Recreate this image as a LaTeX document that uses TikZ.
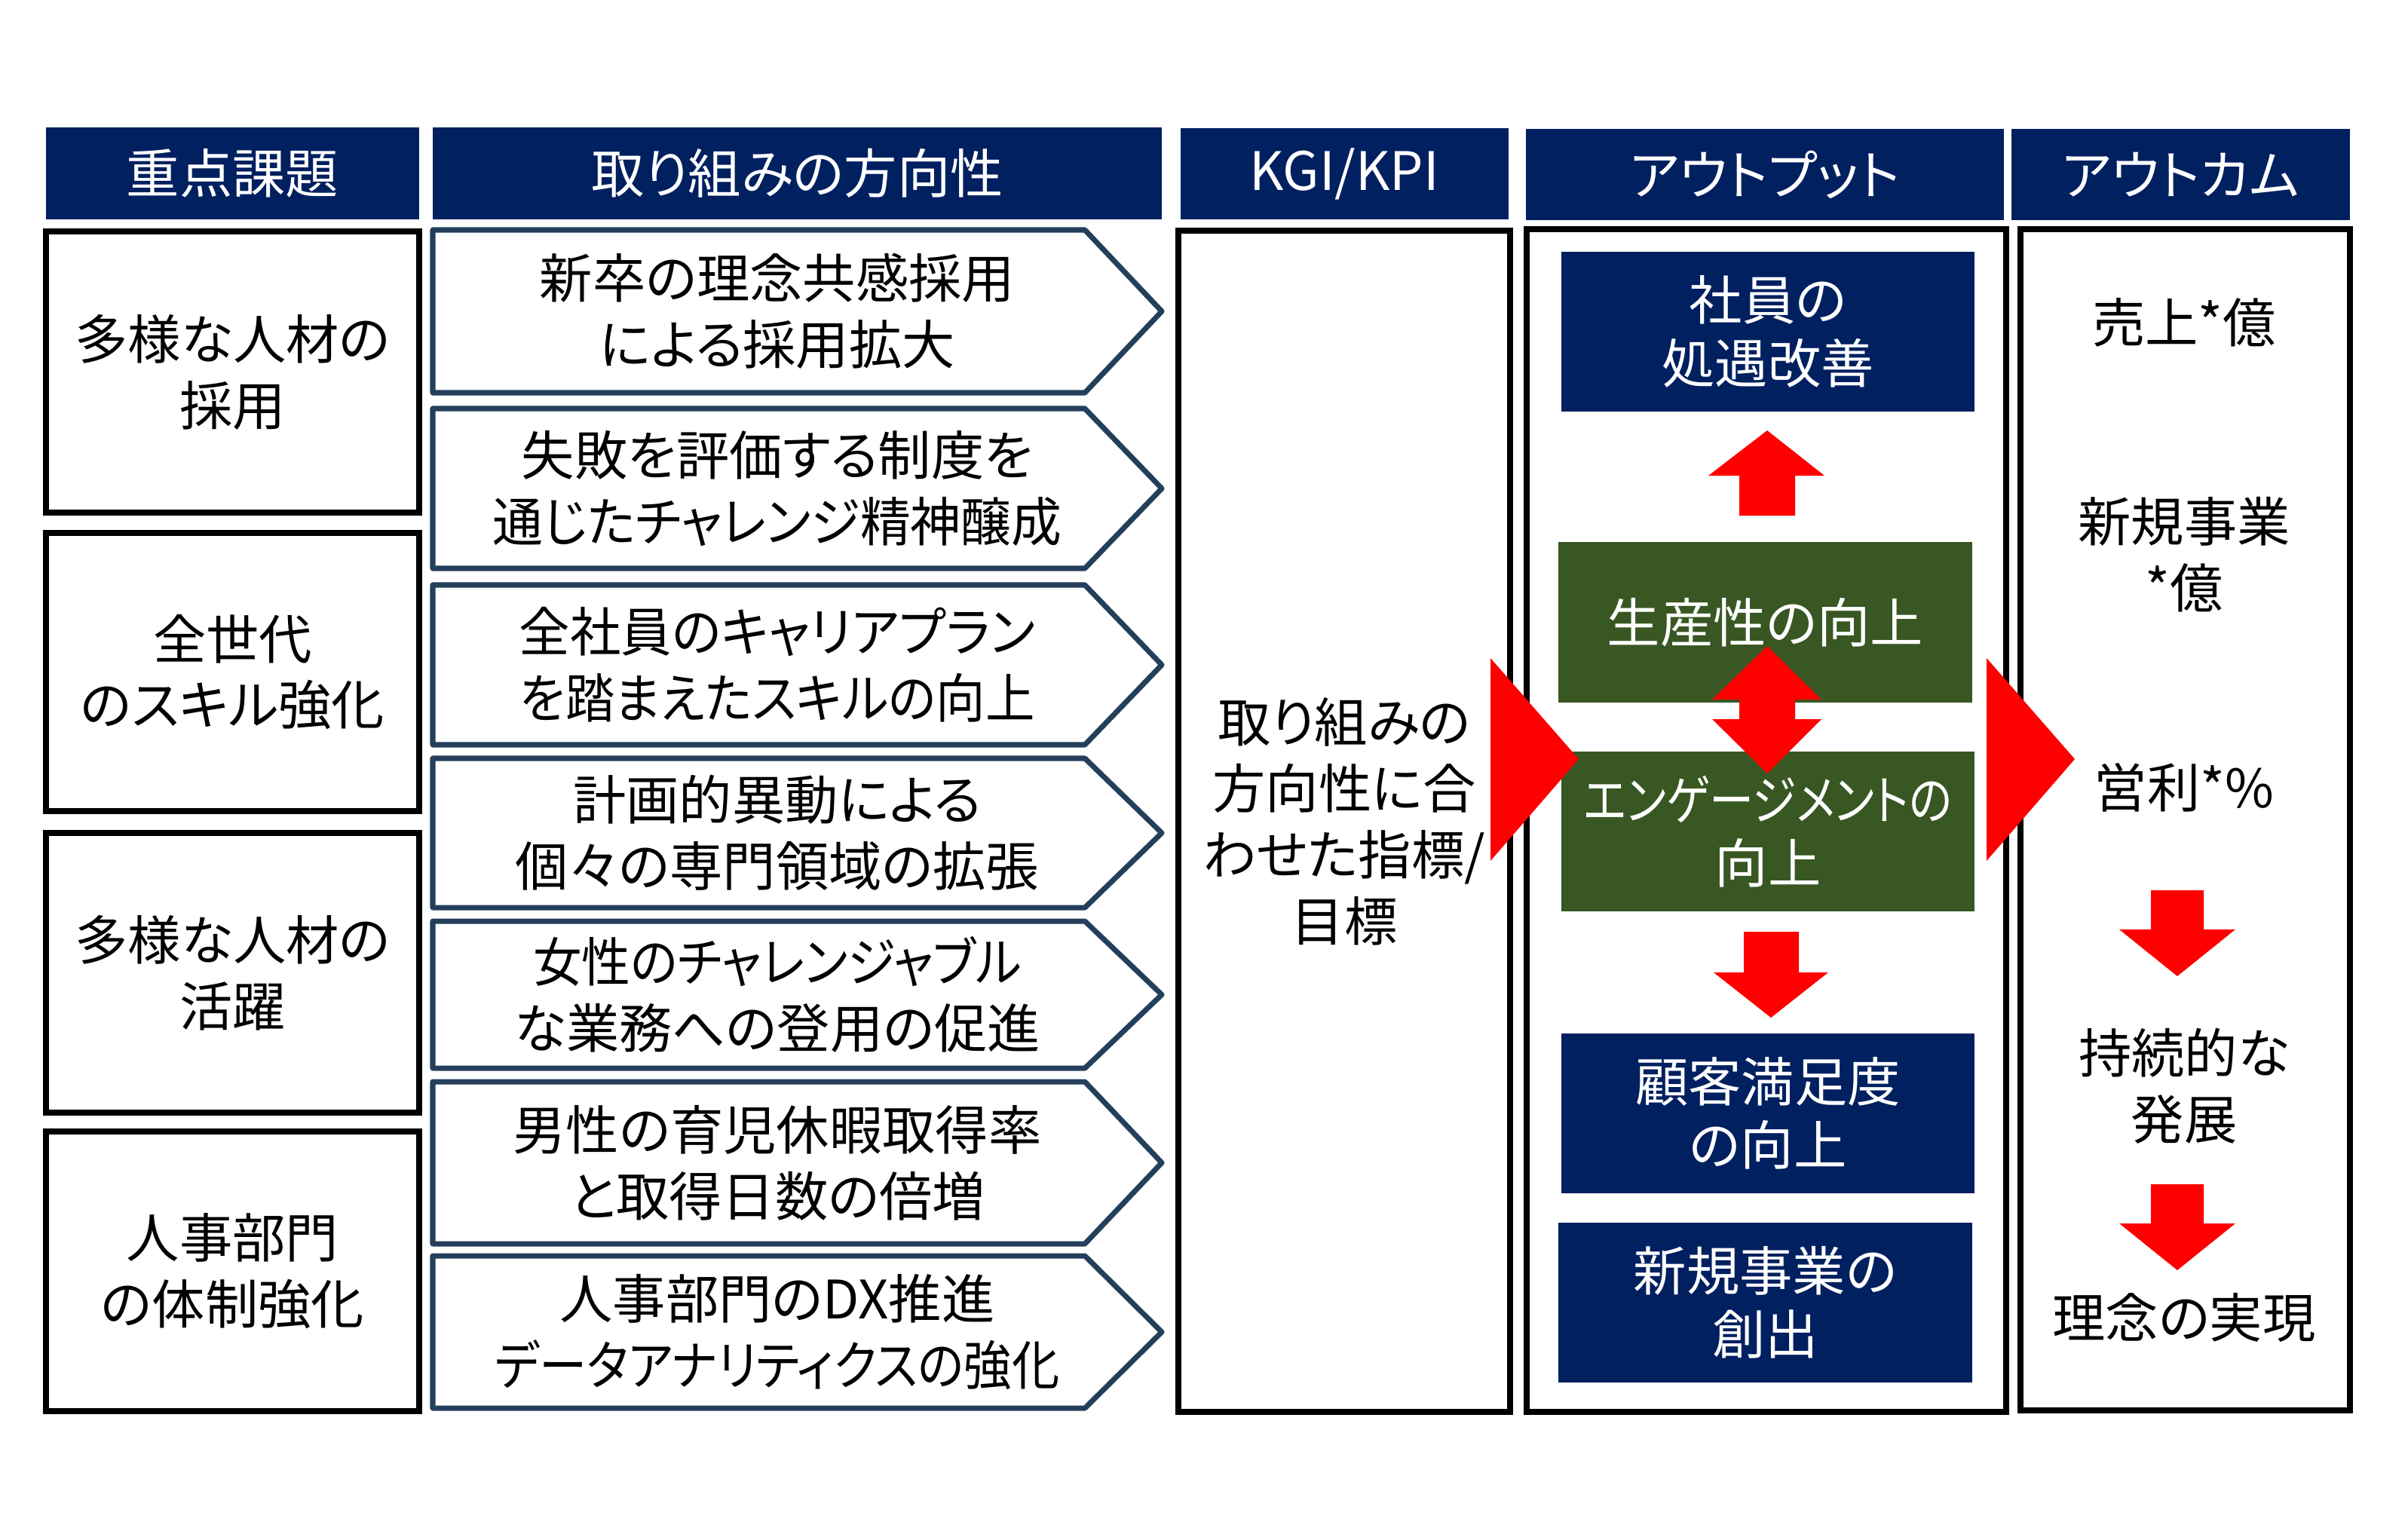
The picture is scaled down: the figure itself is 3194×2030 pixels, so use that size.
\documentclass[tikz,border=0pt]{standalone}
\usepackage{fontspec}
\setmainfont{Noto Sans CJK JP}[RawFeature=+palt]
\newcommand{\narrow}[2]{{\addfontfeature{FakeStretch=#1}#2}}
\definecolor{navy}{HTML}{002060}
\definecolor{leaf}{HTML}{385723}
\definecolor{slate}{HTML}{243F5C}
\begin{document}
\begin{tikzpicture}[x=0.01cm,y=-0.01cm,
  head/.style={fill=navy},
  frame/.style={draw=black,line width=2.3pt},
  chev/.style={draw=slate,line width=2pt,line join=round},
  txt/.style={align=center,font=\fontsize{20}{25}\selectfont},
  wtxt/.style={align=center,text=white,font=\fontsize{20}{24}\selectfont},
  redarrow/.style={fill=red}]
\useasboundingbox (0,0) rectangle (3194,2030);
% column headers
\fill[head](61,169)rectangle(556,291)node[midway,wtxt](h1){重点課題};
\fill[head](574,169)rectangle(1541,291)node[midway,wtxt](h2){取り組みの方向性};
\fill[head](1566,170)rectangle(2001,291)node[midway,wtxt](h3){KGI/KPI};
\fill[head](2024,171)rectangle(2658,292)node[midway,wtxt](h4){アウトプット};
\fill[head](2668,171)rectangle(3117,292)node[midway,wtxt](h5){アウトカム};
% key issues
\draw[frame](61,307)rectangle(556,680)node[midway,txt](k1){多様な人材の\\採用};
\draw[frame](61,707)rectangle(556,1076)node[midway,txt](k2){全世代\\のスキル強化};
\draw[frame](61,1105)rectangle(556,1476)node[midway,txt](k3){多様な人材の\\活躍};
\draw[frame](61,1501)rectangle(556,1872)node[midway,txt](k4){人事部門\\の体制強化};
% directions
\foreach \yt/\yb/\txt [count=\i] in {305/521/{新卒の理念共感採用\\による採用拡大},
  542/754/{失敗を評価する制度を\\\narrow{0.95}{通じたチャレンジ精神醸成}},
  776/988/{\narrow{0.96}{全社員のキャリアプラン}\\\narrow{0.93}{を踏まえたスキルの向上}},
  1006/1204/{計画的異動による\\個々の専門領域の拡張},
  1222/1417/{\narrow{0.92}{女性のチャレンジャブル}\\な業務への登用の促進},
  1435/1650/{男性の育児休暇取得率\\と取得日数の倍増},
  1666/1868/{人事部門のDX推進\\\narrow{0.9}{データアナリティクスの強化}}}{
  \draw[chev](574,\yt)--(1439,\yt)--(1541,{(\yt+\yb)/2})--(1439,\yb)--(574,\yb)--cycle;
  \node[txt](d\i) at (1031,{(\yt+\yb)/2}){\txt};
}
% kgi, output, outcome frames
\draw[frame](1563,306)rectangle(2003,1873)node[midway,txt](kgi){取り組みの\\方向性に合\\わせた指標/\\目標};
\draw[frame](2025,304)rectangle(2661,1873);
\draw[frame](2680,304)rectangle(3117,1871);
% outputs
\fill[navy](2071,334)rectangle(2619,546)node[midway,wtxt](o1){社員の\\処遇改善};
\fill[leaf](2067,719)rectangle(2616,932)node[midway,wtxt](o2){生産性の向上};
\fill[leaf](2071,997)rectangle(2619,1209)node[midway,wtxt](o3){\narrow{0.84}{エンゲージメントの}\\向上};
\fill[navy](2071,1371)rectangle(2619,1583)node[midway,wtxt](o4){顧客満足度\\の向上};
\fill[navy](2067,1622)rectangle(2616,1834)node[midway,wtxt](o5){新規事業の\\創出};
% outcomes
\node[txt](r1) at (2897,428){売上*億};
\node[txt](r2) at (2897,736){新規事業\\*億};
\node[txt](r3) at (2897,1045){営利*\%};
\node[txt](r4) at (2897,1441){持続的な\\発展};
\node[txt](r5) at (2897,1748){理念の実現};
% red arrows
\fill[redarrow](2344,571)--(2420,631)--(2381,631)--(2381,684)--(2307,684)--(2307,631)--(2266,631)--cycle;
\fill[redarrow](2344,857)--(2416,928)--(2381,928)--(2381,954)--(2416,954)--(2344,1026)--(2271,954)--(2307,954)--(2307,928)--(2271,928)--cycle;
\fill[redarrow](2313,1236)--(2386,1236)--(2386,1290)--(2425,1290)--(2349,1350)--(2273,1290)--(2313,1290)--cycle;
\foreach \t in {1181,1571}
  \fill[redarrow](2853,\t)--(2923,\t)--(2923,{\t+52})--(2965,{\t+52})--(2888,{\t+114})--(2811,{\t+52})--(2853,{\t+52})--cycle;
\foreach \x in {1977,2635}
  \fill[redarrow](\x,873)--(\x,1142)--({\x+117},1007)--cycle;
\end{tikzpicture}
\end{document}
